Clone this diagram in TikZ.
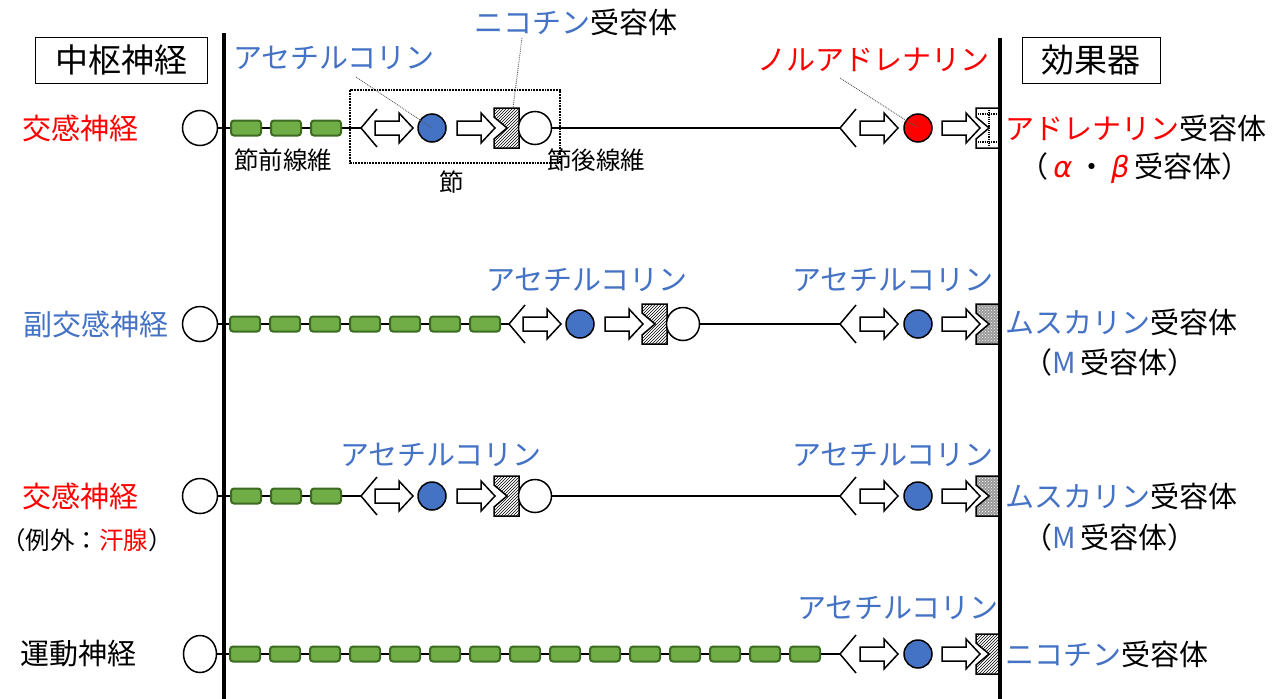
\documentclass[tikz,border=0pt]{standalone}
\usepackage{fontspec}
\setmainfont{Noto Sans CJK JP}
\newfontfamily\gk{DejaVu Sans}
\usetikzlibrary{patterns,shapes.geometric}
\definecolor{jred}{HTML}{FF0000}
\definecolor{jblue}{HTML}{4472C4}
\definecolor{segfill}{HTML}{70AD47}
\definecolor{segdraw}{HTML}{3D6B22}
\newcommand\rcp[4]{%
  \path[#4] (#1,#2-20) -- ++(#3,0) -- ++(0,40) -- ++(-#3,0) -- ++(0,-9) -- ++(13,-11) -- ++(-13,-11) -- cycle;}
\tikzset{
  soma/.style={circle,draw,line width=1.5pt,fill=white,minimum size=35pt,inner sep=0},
  seg/.style={rounded corners=3pt,draw=segdraw,line width=2pt,fill=segfill,minimum width=30pt,minimum height=15pt,inner sep=0},
  ach/.style={circle,draw,line width=1.5pt,fill=jblue,minimum size=28pt,inner sep=0},
  axon/.style={line width=2.5pt},
  lbl/.style={inner sep=0,font=\fontsize{29}{33}\selectfont},
  slbl/.style={inner sep=0,font=\fontsize{24.5}{28}\selectfont},
  ptr/.style={densely dotted,line width=0.9pt,gray!70!black},
  forkpic/.pic={\draw[line width=1.5pt] (16,-19) -- (0,0) -- (16,19);},
  barrow/.pic={\draw[line width=1.5pt,fill=white,line join=miter] (0,-7) -- (24,-7) -- (24,-15) -- (38,0) -- (24,15) -- (24,7) -- (0,7) -- cycle;},
  nicrec/.style={draw,line width=1.5pt,preaction={fill=white},pattern=north east lines},
  musrec/.style={draw,line width=1.5pt,preaction={fill=gray!80},pattern=crosshatch dots,pattern color=white},
  adrrec/.style={draw,line width=1.5pt,fill=white},
}
% ganglion: x of fork, y, name
\newcommand\ganglion[3]{%
  \pic at (#1,#2) {forkpic};
  \pic at (#1+14,#2) {barrow};
  \node[ach] (#3a) at (#1+71,#2) {};
  \pic at (#1+96,#2) {barrow};
  \rcp{#1+133}{#2}{25}{nicrec}
  \node[soma,minimum size=33pt] (#3p) at (#1+174,#2) {};}
% effector end: y, name, circle fill, receptor style
\newcommand\effector[4]{%
  \pic at (840,#1) {forkpic};
  \pic at (860,#1) {barrow};
  \node[ach,fill=#3] (#2t) at (918,#1) {};
  \pic at (942,#1) {barrow};
  \rcp{976}{#1}{24}{#4}}
\begin{document}
\begin{tikzpicture}[x=1pt,y=-1pt]
\useasboundingbox (0,0) rectangle (1283,699);
% boxes
\node[draw,line width=1pt,minimum width=172pt,minimum height=46pt,inner sep=0,font=\fontsize{33}{37}\selectfont] (cns) at (121,60) {中枢神経};
\node[draw,line width=1pt,minimum width=138pt,minimum height=46pt,inner sep=0,font=\fontsize{33}{37}\selectfont] (eff) at (1091,60) {効果器};

% ---------- row 1 ----------
\node[soma] (s1) at (200,128) {};
\coordinate (f1) at (361,128);
\draw[axon] (s1) -- (f1);
\foreach \i in {0,1,2} \node[seg] (g1\i) at (246+40*\i,128) {};
\ganglion{361}{128}{r1}
\coordinate (e1) at (840,128);
\draw[axon] (r1p) -- (e1);
\effector{128}{r1}{jred}{adrrec}
\draw[densely dotted,line width=1.2pt] (989,110) -- (989,146) (978,114) -- (999,114) (978,142) -- (999,142);
\draw[densely dotted,line width=1.8pt] (350,90) rectangle (560,163);

% ---------- row 2 ----------
\node[soma] (s2) at (200,324) {};
\coordinate (f2) at (509,324);
\draw[axon] (s2) -- (f2);
\foreach \i in {0,...,6} \node[seg] (g2\i) at (245+40*\i,324) {};
\ganglion{509}{324}{r2}
\coordinate (e2) at (840,324);
\draw[axon] (r2p) -- (e2);
\effector{324}{r2}{jblue}{musrec}

% ---------- row 3 ----------
\node[soma] (s3) at (200,496) {};
\coordinate (f3) at (361,496);
\draw[axon] (s3) -- (f3);
\foreach \i in {0,1,2} \node[seg] (g3\i) at (246+40*\i,496) {};
\ganglion{361}{496}{r3}
\coordinate (e3) at (840,496);
\draw[axon] (r3p) -- (e3);
\effector{496}{r3}{jblue}{musrec}

% ---------- row 4 ----------
\node[soma,ellipse,minimum width=33pt,minimum height=37pt] (s4) at (200,654) {};
\coordinate (e4) at (840,654);
\draw[axon] (s4) -- (e4);
\foreach \i in {0,...,14} \node[seg] (g4\i) at (245+40*\i,654) {};
\effector{654}{r4}{jblue}{nicrec}

% vertical lines
\draw[line width=3.5pt] (224,33) -- (224,699);
\draw[line width=3.5pt] (1000,38) -- (1000,699);

% row labels
\node[lbl,text=jred] (n1) at (81,128) {交感神経};
\node[lbl,text=jblue] (n2) at (96,324) {副交感神経};
\node[lbl,text=jred] (n3) at (81,496) {交感神経};
\node[slbl] (n3b) at (87,540) {（例外：{\color{jred}汗腺}）};
\node[lbl] (n4) at (78,654) {運動神経};

% row 1 labels
\node[lbl,text=jblue] (l1a) at (334,58) {アセチルコリン};
\node[lbl] (l1n) at (576,22) {{\color{jblue}ニコチン}受容体};
\node[lbl,text=jred] (l1na) at (873,60) {ノルアドレナリン};
\node[slbl] (pre) at (283,160) {節前線維};
\node[slbl] (gang) at (452,182) {節};
\node[slbl] (post) at (596,160) {節後線維};
\node[lbl,anchor=west] (rec1) at (1005,128) {{\color{jred}アドレナリン}受容体};
\node[lbl] (rec1b) at (1135,168) {（\,{\color{jred}\gk\itshape α}\,・\,{\color{jred}\gk\itshape β}\,受容体）};
\draw[ptr] (356,77) -- (r1a.center);
\draw[ptr] (522,38) -- (513,108);
\draw[ptr] (840,78) -- (r1t.center);

% row 2 labels
\node[lbl,text=jblue] (l2a) at (587,280) {アセチルコリン};
\node[lbl,text=jblue] (l2b) at (893,280) {アセチルコリン};
\node[lbl,anchor=west] (rec2) at (1005,322) {{\color{jblue}ムスカリン}受容体};
\node[lbl] (rec2b) at (1110,362) {（{\color{jblue}M}\,受容体）};

% row 3 labels
\node[lbl,text=jblue] (l3a) at (441,455) {アセチルコリン};
\node[lbl,text=jblue] (l3b) at (893,455) {アセチルコリン};
\node[lbl,anchor=west] (rec3) at (1005,496) {{\color{jblue}ムスカリン}受容体};
\node[lbl] (rec3b) at (1110,537) {（{\color{jblue}M}\,受容体）};

% row 4 labels
\node[lbl,text=jblue] (l4b) at (898,608) {アセチルコリン};
\node[lbl,anchor=west] (rec4) at (1005,654) {{\color{jblue}ニコチン}受容体};
\end{tikzpicture}
\end{document}
